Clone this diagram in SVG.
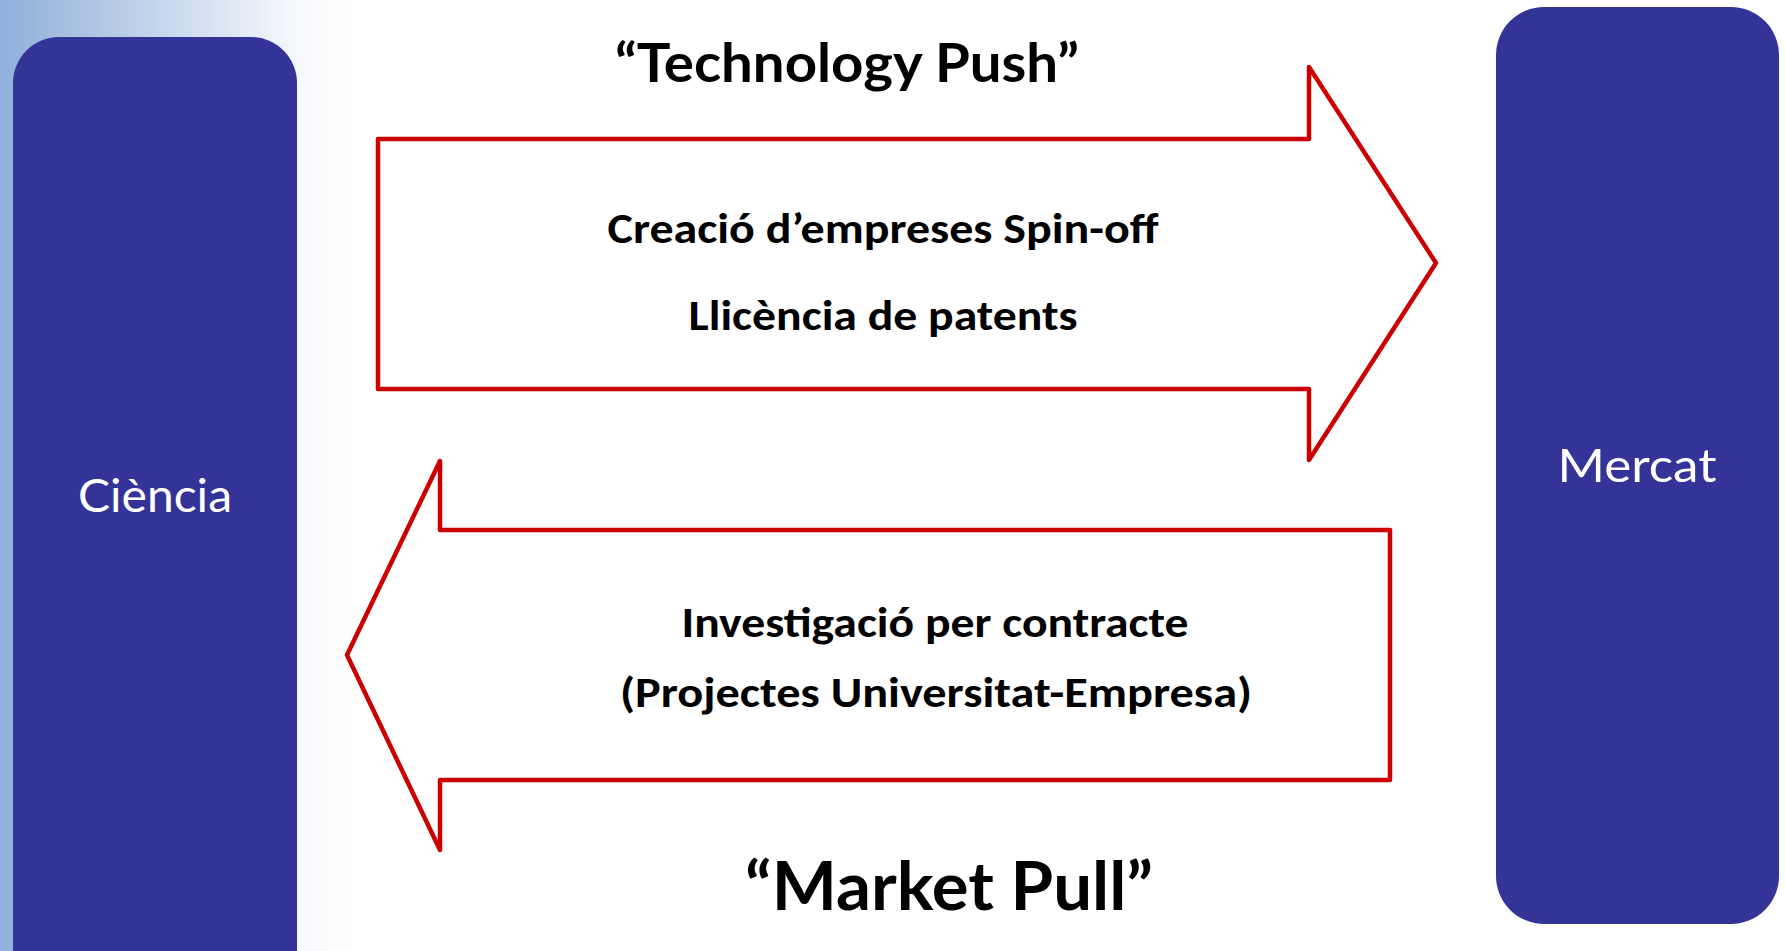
<svg xmlns="http://www.w3.org/2000/svg" width="1785" height="951" viewBox="0 0 1785 951">
  <defs>
    <linearGradient id="bgL" x1="0" y1="0" x2="1" y2="0">
      <stop offset="0" stop-color="#8eb0da"/>
      <stop offset="0.3" stop-color="#b5cae5"/>
      <stop offset="0.7" stop-color="#e8eef7"/>
      <stop offset="1" stop-color="#ffffff" stop-opacity="0"/>
    </linearGradient>
  </defs>
  <style>
    .node { fill: #343498; }
    .arrow { fill: #ffffff; stroke: #cc0000; stroke-width: 4.5; stroke-linejoin: round; }
    .label { font-family: "Comic Sans MS", "Lato", sans-serif; fill: #ffffff; font-size: 46px; text-anchor: middle; }
    .title { font-family: "Comic Sans MS", "Lato", sans-serif; fill: #000000; font-weight: bold; text-anchor: middle; }
    .body { font-family: Calibri, Carlito, "Liberation Sans", sans-serif; fill: #000000; font-weight: bold; font-size: 42px; text-anchor: middle; }
  </style>
  <rect x="0" y="0" width="1785" height="951" fill="#ffffff"/>
  <rect x="0" y="0" width="370" height="951" fill="url(#bgL)"/>

  <g id="connectors">
    <path class="arrow" d="M378,139 L1309,139 L1309,67 L1436,263 L1309,460 L1309,389 L378,389 Z"/>
    <path class="arrow" d="M1390,530 L440,530 L440,461 L347,655 L440,850 L440,780 L1390,780 Z"/>
  </g>

  <g id="node-ciencia">
    <rect class="node" x="13" y="37" width="284" height="960" rx="46" ry="46"/>
    <text class="label" x="155" y="512" textLength="154" lengthAdjust="spacingAndGlyphs">Ciència</text>
  </g>

  <g id="node-mercat">
    <rect class="node" x="1496" y="7" width="283" height="917" rx="48" ry="48"/>
    <text class="label" x="1637" y="482" textLength="159" lengthAdjust="spacingAndGlyphs">Mercat</text>
  </g>

  <g id="label-push">
    <text class="title" x="847" y="82" font-size="54" textLength="464" lengthAdjust="spacingAndGlyphs">“Technology Push”</text>
  </g>
  <g id="label-push-body">
    <text class="body" x="883" y="243" textLength="551" lengthAdjust="spacingAndGlyphs">Creació d’empreses Spin-off</text>
    <text class="body" x="883" y="330" textLength="389" lengthAdjust="spacingAndGlyphs">Llicència de patents</text>
  </g>
  <g id="label-pull-body">
    <text class="body" x="935" y="637" textLength="507" lengthAdjust="spacingAndGlyphs">Investigació per contracte</text>
    <text class="body" x="936" y="707" textLength="632" lengthAdjust="spacingAndGlyphs">(Projectes Universitat-Empresa)</text>
  </g>
  <g id="label-pull">
    <text class="title" x="949" y="910" font-size="66" textLength="408" lengthAdjust="spacingAndGlyphs">“Market Pull”</text>
  </g>
</svg>
